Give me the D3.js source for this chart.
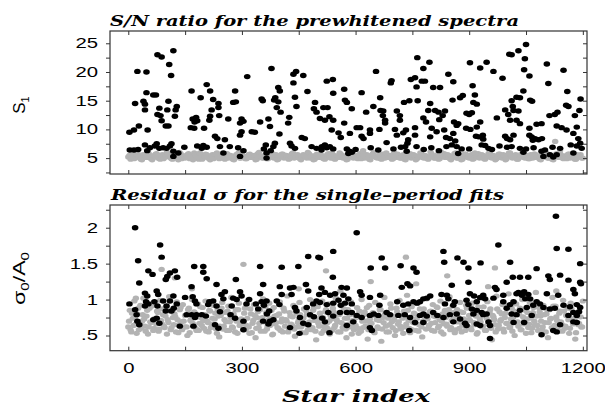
<!DOCTYPE html>
<html>
<head>
<meta charset="utf-8">
<script src="https://d3js.org/d3.v7.min.js"></script>
<style>
body { margin: 0; background: #fff; }
</style>
</head>
<body>
<script>
// top panel: S/N of the prewhitened spectra, black = significant, gray = the rest
var blackTop = [[3,9.5],[15,9.9],[28,10.6],[24,20.1],[48,20.0],[18,14.5],[40,14.9],[44,14.4],[44,13.4],[48,16.4],[66,16.0],[73,16.0],[51,9.9],[4,6.4],[15,6.4],[26,6.5],[44,7.3],[57,6.8],[50,6.3],[77,23.0],[88,22.6],[119,23.7],[108,21.3],[113,19.4],[82,13.7],[77,12.6],[85,12.4],[88,11.5],[99,10.6],[106,10.6],[106,14.9],[103,13.4],[128,14.0],[125,13.4],[123,12.3],[75,7.5],[82,6.7],[92,6.8],[110,7.1],[114,7.5],[119,6.2],[119,5.3],[132,5.9],[101,6.7],[70,7.1],[148,6.9],[167,16.7],[165,10.3],[174,10.2],[170,11.8],[179,12.1],[182,11.5],[175,11.3],[191,15.5],[207,17.8],[216,16.7],[200,10.2],[198,7.2],[207,6.9],[194,6.7],[182,7.1],[220,13.4],[216,12.3],[214,11.6],[224,15.2],[238,14.5],[229,8.8],[235,8.4],[255,8.2],[242,7.0],[251,5.9],[238,13.8],[240,12.4],[264,11.8],[277,14.7],[284,14.8],[282,16.7],[268,7.0],[290,6.8],[299,11.8],[304,11.4],[295,11.1],[299,9.6],[295,9.0],[295,5.3],[304,6.3],[314,19.2],[326,9.6],[334,9.5],[348,11.3],[352,15.3],[355,15.0],[363,7.3],[358,6.6],[365,5.9],[365,5.0],[378,20.6],[370,11.8],[374,10.5],[383,7.0],[387,7.6],[376,6.3],[385,15.1],[388,15.5],[400,16.7],[396,17.3],[396,14.8],[392,13.8],[402,13.0],[399,9.2],[422,11.1],[425,12.1],[436,19.6],[436,18.1],[443,20.1],[440,15.6],[444,14.0],[431,7.1],[427,7.6],[440,6.7],[462,19.4],[473,16.6],[466,8.4],[458,8.6],[490,13.6],[497,13.0],[493,14.7],[515,13.8],[506,11.9],[519,11.6],[484,7.0],[497,6.7],[519,7.3],[510,6.4],[524,18.4],[540,18.7],[541,16.3],[570,17.0],[526,13.8],[531,12.2],[541,11.6],[572,15.1],[577,14.7],[590,13.6],[570,11.1],[537,9.9],[555,9.4],[561,8.6],[585,9.3],[511,7.0],[524,6.8],[532,7.0],[541,6.6],[577,6.6],[584,6.2],[590,6.0],[581,5.8],[603,10.3],[612,10.3],[616,16.4],[628,13.0],[616,8.8],[621,8.4],[638,9.3],[638,9.9],[647,14.0],[654,20.1],[665,15.5],[663,10.0],[666,13.3],[673,13.2],[672,12.4],[678,11.6],[678,11.1],[682,7.7],[693,18.1],[695,18.5],[709,13.2],[717,12.4],[717,11.6],[704,10.0],[709,9.0],[726,9.4],[733,9.9],[737,7.6],[739,8.2],[731,7.0],[735,6.2],[728,14.7],[742,15.0],[746,18.7],[757,19.0],[761,17.4],[763,22.5],[779,20.6],[795,21.7],[775,18.4],[783,18.4],[764,15.0],[797,14.5],[792,13.3],[757,10.3],[757,9.0],[761,7.0],[779,12.0],[786,11.3],[801,10.2],[797,8.7],[810,13.3],[819,13.0],[805,17.3],[823,17.3],[814,9.6],[821,11.7],[830,12.4],[836,13.2],[834,9.9],[839,8.6],[845,19.6],[858,18.3],[856,15.1],[849,8.4],[854,7.3],[863,8.0],[867,10.7],[860,11.3],[871,11.0],[876,15.5],[883,15.9],[858,9.3],[867,7.0],[880,6.6],[871,5.8],[902,21.6],[909,17.6],[915,16.0],[911,14.7],[920,14.4],[893,12.8],[900,12.6],[907,12.9],[892,10.2],[903,10.0],[920,10.4],[918,8.8],[925,8.7],[936,9.0],[937,8.3],[929,20.7],[946,21.7],[964,20.1],[988,18.9],[929,11.3],[933,7.3],[942,7.2],[951,6.7],[973,12.0],[995,13.4],[1003,12.6],[1012,15.0],[1008,11.6],[1015,14.0],[1006,23.1],[1012,23.0],[1030,23.7],[1050,24.8],[1047,22.3],[1045,20.4],[1059,19.3],[1025,15.6],[1034,15.5],[1043,16.7],[1061,15.1],[1066,14.9],[1017,13.3],[1030,13.2],[1025,11.6],[1034,11.0],[995,8.8],[1000,8.4],[1008,8.2],[1017,9.0],[1012,7.0],[1034,6.7],[1043,6.0],[1059,10.2],[1059,9.0],[1065,8.7],[1074,8.4],[1083,8.2],[1092,8.4],[1068,8.1],[1105,21.4],[1109,18.0],[1078,10.9],[1091,11.0],[1112,12.4],[1133,13.0],[1126,12.6],[1091,6.2],[1096,5.3],[1113,5.6],[1122,5.2],[1131,5.6],[1149,20.3],[1159,16.6],[1156,14.2],[1162,14.0],[1131,10.6],[1144,10.3],[1157,9.9],[1175,9.3],[1140,6.7],[1179,12.4],[1194,15.3],[1191,13.3],[1184,10.4],[1188,8.4],[1193,7.6],[1184,7.1],[1197,6.7],[1175,5.9],[1168,7.3],
[600,6.5],[640,6.8],[660,6.4],[700,6.6],[720,6.9],[780,6.5],[800,6.8],[820,6.3],[840,7.0],[900,6.6],[960,6.5],[980,7.1],[1000,6.9],[1050,6.6],[1070,6.8],[1100,6.4],[1120,6.9]];

var grayTop = [[0,5.2],[6,4.8],[12,5.6],[18,5.0],[24,5.9],[30,5.3],[36,4.7],[42,5.5],[48,5.1],[54,5.8],
[60,4.9],[66,5.4],[72,5.7],[78,5.0],[84,4.8],[90,5.6],[96,5.2],[102,6.0],[108,5.3],[114,4.9],
[120,5.5],[126,5.1],[132,4.7],[138,5.8],[144,5.3],[150,5.0],[156,5.6],[162,4.9],[168,5.4],[174,5.9],
[180,5.1],[186,4.8],[192,5.5],[198,5.2],[204,5.7],[210,5.0],[216,4.7],[222,5.6],[228,5.3],[234,5.9],
[240,4.9],[246,5.4],[252,5.1],[258,5.8],[264,5.0],[270,5.5],[276,4.8],[282,5.2],[288,5.7],[294,5.0],
[300,6.1],[306,5.3],[312,4.9],[318,5.6],[324,5.1],[330,5.4],[336,4.7],[342,5.8],[348,5.2],[354,5.0],
[360,5.5],[366,4.9],[372,5.9],[378,5.3],[384,5.0],[390,5.6],[396,4.8],[402,5.2],[408,5.7],[414,5.1],
[420,5.4],[426,4.9],[432,5.8],[438,5.0],[444,5.5],[450,5.2],[456,4.7],[462,5.6],[468,5.3],[474,6.0],
[480,5.0],[486,5.4],[492,4.8],[498,5.7],[504,5.1],[510,5.5],[516,4.9],[522,5.3],[528,5.8],[534,5.0],
[540,5.6],[546,4.8],[552,5.2],[558,5.9],[564,5.1],[570,5.4],[576,4.7],[582,5.7],[588,5.3],[594,5.0],
[600,5.5],[606,4.9],[612,5.8],[618,5.2],[624,5.0],[630,5.6],[636,4.8],[642,5.4],[648,6.0],[654,5.1],
[660,5.3],[666,4.9],[672,5.7],[678,5.0],[684,5.5],[690,5.2],[696,4.8],[702,5.9],[708,5.1],[714,5.4],
[720,5.0],[726,5.6],[732,4.7],[738,5.3],[744,5.8],[750,5.1],[756,5.5],[762,4.9],[768,5.2],[774,5.7],
[780,5.0],[786,5.4],[792,4.8],[798,6.1],[804,5.3],[810,5.0],[816,5.6],[822,4.9],[828,5.2],[834,5.8],
[840,5.1],[846,5.5],[852,4.7],[858,5.3],[864,5.9],[870,5.0],[876,5.4],[882,4.8],[888,5.7],[894,5.2],
[900,5.0],[906,5.6],[912,4.9],[918,5.3],[924,5.8],[930,5.1],[936,5.5],[942,4.8],[948,5.2],[954,6.0],
[960,5.0],[966,5.4],[972,4.9],[978,5.7],[984,5.1],[990,5.6],[996,4.7],[1002,5.3],[1008,5.9],[1014,5.0],
[1020,5.5],[1026,4.8],[1032,5.2],[1038,5.8],[1044,5.1],[1050,5.4],[1056,4.9],[1062,5.6],[1068,5.0],[1074,5.7],
[1080,5.3],[1086,4.8],[1092,5.5],[1098,5.1],[1104,5.9],[1110,5.0],[1116,5.4],[1122,4.7],[1128,5.6],[1134,5.2],
[1140,5.8],[1146,5.0],[1152,5.4],[1158,4.9],[1164,5.7],[1170,5.1],[1176,5.5],[1182,4.8],[1188,5.3],[1194,5.6],
[1200,5.0],[1127,7.9],[1140,6.4],[620,6.3],
[3,5.5],[9,5.0],[15,4.9],[21,5.7],[27,5.2],[33,4.8],[39,5.6],[45,5.3],[51,5.9],[57,5.1],
[63,4.7],[69,5.4],[75,5.8],[81,5.0],[87,5.5],[93,4.9],[99,5.2],[105,5.7],[111,5.1],[117,4.8],
[123,5.6],[129,5.3],[135,6.0],[141,4.9],[147,5.4],[153,5.1],[159,5.8],[165,5.0],[171,4.7],[177,5.5],
[183,5.2],[189,5.9],[195,4.8],[201,5.3],[207,5.6],[213,5.0],[219,5.4],[225,4.9],[231,5.7],[237,5.2],
[243,5.0],[249,5.5],[255,4.8],[261,5.8],[267,5.1],[273,5.3],[279,4.7],[285,5.6],[291,5.9],[297,5.0],
[303,5.4],[309,4.9],[315,5.2],[321,5.7],[327,5.1],[333,5.5],[339,4.8],[345,6.0],[351,5.3],[357,5.0],
[363,5.6],[369,4.9],[375,5.2],[381,5.8],[387,5.1],[393,4.7],[399,5.4],[405,5.7],[411,5.0],[417,5.5],
[423,4.8],[429,5.3],[435,5.9],[441,5.1],[447,5.6],[453,4.9],[459,5.2],[465,5.4],[471,5.0],[477,5.8],
[483,5.3],[489,4.7],[495,5.5],[501,5.1],[507,5.7],[513,5.0],[519,4.8],[525,5.6],[531,5.2],[537,5.9],
[543,4.9],[549,5.4],[555,5.1],[561,5.7],[567,5.0],[573,5.3],[579,4.8],[585,5.6],[591,6.0],[597,5.2],
[603,5.0],[609,5.5],[615,4.9],[621,5.8],[627,5.1],[633,5.4],[639,4.7],[645,5.7],[651,5.3],[657,5.0],
[663,5.6],[669,4.8],[675,5.2],[681,5.9],[687,5.1],[693,5.5],[699,4.9],[705,5.3],[711,5.7],[717,5.0],
[723,5.4],[729,4.8],[735,5.8],[741,5.2],[747,5.0],[753,5.6],[759,4.7],[765,5.3],[771,5.9],[777,5.1],
[783,5.5],[789,4.9],[795,5.2],[801,5.7],[807,5.0],[813,5.4],[819,4.8],[825,6.1],[831,5.3],[837,5.1],
[843,5.6],[849,4.9],[855,5.2],[861,5.8],[867,5.0],[873,5.5],[879,4.7],[885,5.3],[891,5.7],[897,5.1],
[903,5.4],[909,4.8],[915,5.9],[921,5.2],[927,5.0],[933,5.6],[939,4.9],[945,5.3],[951,5.8],[957,5.1],
[963,5.5],[969,4.7],[975,5.2],[981,5.7],[987,5.0],[993,5.4],[999,4.9],[1005,5.9],[1011,5.3],[1017,5.1],
[1023,5.6],[1029,4.8],[1035,5.2],[1041,5.8],[1047,5.0],[1053,5.5],[1059,4.9],[1065,5.3],[1071,5.7],[1077,5.1],
[1083,5.4],[1089,4.7],[1095,5.9],[1101,5.2],[1107,5.0],[1113,5.6],[1119,4.8],[1125,5.3],[1131,5.8],[1137,5.1],
[1143,5.5],[1149,4.9],[1155,5.2],[1161,5.7],[1167,5.0],[1173,5.4],[1179,4.8],[1185,5.6],[1191,5.3],[1197,5.0]];

// bottom panel: residual sigma / A0 of the single-period fits
var blackBot = [[18,2.0],[26,1.54],[29,1.23],[3,0.94],[18,0.86],[22,0.79],[24,0.70],[29,0.65],[44,1.09],[50,1.05],[47,0.97],[53,0.94],[44,0.91],[53,1.40],[64,1.35],[84,1.76],[88,1.59],[75,1.12],[79,1.07],[69,0.97],[77,0.91],[75,0.74],[82,0.67],[66,0.72],[99,1.28],[103,1.32],[110,1.37],[123,1.40],[129,1.31],[92,0.98],[101,0.91],[110,0.98],[119,1.05],[114,0.84],[120,0.88],[128,0.94],[99,0.84],[136,0.63],[150,1.03],[167,1.18],[170,1.04],[176,0.98],[180,0.94],[154,0.79],[167,0.79],[176,0.75],[180,0.79],[174,1.46],[198,1.46],[198,1.38],[207,1.29],[172,0.63],[194,0.79],[205,0.77],[211,0.93],[214,0.97],[224,0.98],[233,0.91],[233,1.21],[246,1.07],[255,1.11],[251,1.01],[242,0.83],[229,0.65],[238,0.60],[284,1.28],[277,1.02],[286,1.00],[295,1.11],[299,1.05],[273,0.91],[270,0.79],[282,0.74],[304,0.58],[304,0.70],[312,0.94],[319,1.00],[348,1.46],[356,1.21],[348,1.08],[337,0.94],[343,0.87],[352,0.97],[358,0.92],[365,0.98],[372,0.84],[366,0.80],[356,0.70],[374,0.70],[383,0.72],[370,0.66],[405,1.45],[400,1.18],[405,1.07],[392,0.98],[399,0.93],[427,0.61],[431,1.07],[427,1.16],[436,1.17],[444,0.84],[440,0.89],[449,1.46],[452,0.53],[453,0.75],[462,0.67],[469,1.21],[475,1.60],[502,1.59],[475,1.12],[488,0.94],[497,0.98],[504,1.07],[471,0.89],[480,0.79],[490,0.76],[475,0.65],
[506,1.58],[541,1.67],[603,1.93],[540,1.31],[510,1.16],[519,1.10],[533,1.06],[546,1.08],[563,1.17],[577,1.16],[568,1.06],[506,0.96],[524,0.93],[541,0.95],[555,0.99],[561,0.92],[572,0.95],[581,1.01],[590,0.94],[612,1.11],[616,1.06],[528,0.82],[541,0.77],[559,0.82],[577,0.82],[590,0.82],[603,0.78],[616,0.75],[519,0.69],[512,0.74],[531,0.54],[577,0.64],[594,0.69],[640,1.44],[669,1.58],[678,1.44],[638,1.03],[665,1.06],[663,0.92],[682,0.82],[691,0.79],[660,0.78],[638,0.78],[648,0.80],[643,0.57],[638,0.61],[710,0.97],[722,1.17],[737,1.22],[744,1.19],[719,1.47],[753,1.44],[761,1.38],[726,0.92],[739,0.94],[753,0.97],[762,0.95],[770,0.97],[779,1.01],[788,1.02],[797,1.05],[713,0.78],[730,0.79],[744,0.75],[770,0.78],[779,0.80],[788,0.77],[757,0.68],[779,0.68],[742,0.57],[805,0.82],[832,1.67],[834,1.52],[869,1.58],[885,1.52],[898,1.44],[930,1.51],[977,1.76],[1008,1.52],[827,1.07],[841,1.06],[845,1.01],[854,1.20],[836,0.94],[858,0.92],[862,0.97],[816,0.78],[832,0.75],[849,0.79],[867,0.80],[876,0.73],[858,0.69],[898,1.24],[902,1.08],[913,1.05],[929,1.03],[937,1.06],[942,1.01],[920,0.97],[893,0.99],[898,0.93],[907,0.87],[920,0.85],[933,0.82],[937,0.79],[911,0.80],[946,0.80],[889,0.67],[893,0.64],[920,0.66],[929,0.64],[955,0.64],[951,0.69],[955,0.46],[968,1.17],[972,1.14],[964,1.02],[990,1.06],[999,1.24],[1015,1.31],[1034,1.31],[1056,1.31],[990,0.97],[999,0.88],[1008,0.93],[1017,0.97],[1025,1.08],[1030,1.10],[1039,1.06],[1045,1.11],[1056,1.07],[1061,1.01],[1048,1.01],[1012,0.80],[1025,0.79],[1034,0.85],[1052,0.89],[1069,0.92],[1078,0.97],[1087,0.94],[1065,0.78],[1045,0.68],[1017,0.68],[1078,1.43],[1109,1.33],[1113,1.28],[1131,1.71],[1162,1.70],[1140,1.34],[1129,2.16],[1193,1.50],[1105,1.08],[1135,1.06],[1162,1.27],[1175,1.14],[1179,1.08],[1193,1.24],[1195,1.22],[1096,0.89],[1113,0.87],[1126,0.88],[1149,0.92],[1166,0.90],[1184,0.93],[1193,0.89],[1175,0.82],[1162,0.78],[1184,0.78],[1190,0.83],[1140,0.65],[1175,0.69],[1184,0.68],[1091,0.51],[1122,0.57],[1131,0.55]];

var grayBot = [[0,0.62],[4,0.85],[8,0.55],[12,0.74],[16,0.98],[20,0.66],[24,0.80],[28,0.58],[32,0.92],[36,0.70],
[40,1.02],[44,0.63],[48,0.77],[52,0.52],[56,0.88],[60,0.68],[64,0.95],[68,0.60],[72,0.73],[76,0.84],
[80,0.56],[84,0.99],[88,0.67],[92,0.79],[96,0.61],[100,0.90],[104,0.72],[108,1.04],[112,0.58],[116,0.83],
[120,0.65],[124,0.76],[128,0.97],[132,0.54],[136,0.86],[140,0.69],[144,0.93],[148,0.62],[152,0.78],[156,0.50],
[160,0.88],[164,0.71],[168,1.00],[172,0.64],[176,0.81],[180,0.57],[184,0.94],[188,0.67],[192,0.75],[196,0.89],
[200,0.60],[204,0.98],[208,0.70],[212,0.55],[216,0.84],[220,0.66],[224,0.92],[228,0.73],[232,0.59],[236,0.87],
[240,0.48],[244,0.78],[248,0.96],[252,0.63],[256,0.82],[260,0.57],[264,0.91],[268,0.69],[272,1.03],[276,0.61],
[280,0.76],[284,0.86],[288,0.53],[292,0.95],[296,0.68],
[300,0.72],[304,0.58],[308,0.88],[312,0.64],[316,0.99],[320,0.53],[324,0.80],[328,0.67],[332,0.93],[336,0.47],
[340,0.75],[344,0.61],[348,0.86],[352,0.70],[356,1.01],[360,0.56],[364,0.82],[368,0.63],[372,0.95],[376,0.74],
[380,0.51],[384,0.89],[388,0.66],[392,0.78],[396,0.60],[400,0.97],[404,0.69],[408,0.55],[412,0.84],[416,0.72],
[420,1.05],[424,0.59],[428,0.77],[432,0.64],[436,0.92],[440,0.49],[444,0.81],[448,0.68],[452,0.96],[456,0.62],
[460,0.74],[464,0.87],[468,0.54],[472,0.79],[476,0.65],[480,1.00],[484,0.58],[488,0.85],[492,0.71],[496,0.44],
[500,0.90],[504,0.63],[508,0.76],[512,0.98],[516,0.57],[520,0.83],[524,0.67],[528,0.94],[532,0.52],[536,0.73],
[540,0.88],[544,0.61],[548,1.02],[552,0.69],[556,0.79],[560,0.55],[564,0.91],[568,0.66],[572,0.74],[576,0.47],
[580,0.86],[584,0.62],[588,0.97],[592,0.70],[596,0.58],
[600,0.64],[604,0.89],[608,0.53],[612,0.77],[616,1.00],[620,0.61],[624,0.83],[628,0.70],[632,0.45],[636,0.92],
[640,0.67],[644,0.79],[648,0.57],[652,0.96],[656,0.72],[660,0.60],[664,0.86],[668,0.42],[672,0.75],[676,1.03],
[680,0.63],[684,0.81],[688,0.55],[692,0.94],[696,0.69],[700,0.77],[704,0.50],[708,0.88],[712,0.66],[716,0.99],
[720,0.59],[724,0.74],[728,0.84],[732,0.62],[736,1.06],[740,0.71],[744,0.54],[748,0.90],[752,0.68],[756,0.80],
[760,0.57],[764,0.95],[768,0.65],[772,0.78],[776,0.48],[780,0.87],[784,0.73],[788,1.01],[792,0.60],[796,0.83],
[800,0.67],[804,0.93],[808,0.56],[812,0.76],[816,0.89],[820,0.63],[824,0.98],[828,0.70],[832,0.52],[836,0.85],
[840,0.66],[844,0.79],[848,1.04],[852,0.61],[856,0.91],[860,0.74],[864,0.58],[868,0.86],[872,0.69],[876,0.96],
[880,0.55],[884,0.82],[888,0.64],[892,0.92],[896,0.71],
[900,0.78],[904,0.60],[908,0.95],[912,0.68],[916,0.84],[920,0.52],[924,0.90],[928,0.73],[932,1.02],[936,0.63],
[940,0.80],[944,0.57],[948,0.97],[952,0.70],[956,0.87],[960,0.44],[964,0.76],[968,0.65],[972,1.05],[976,0.59],
[980,0.83],[984,0.72],[988,0.93],[992,0.55],[996,0.81],[1000,0.67],[1004,1.08],[1008,0.62],[1012,0.88],[1016,0.75],
[1020,0.50],[1024,0.94],[1028,0.69],[1032,0.79],[1036,0.58],[1040,1.00],[1044,0.66],[1048,0.85],[1052,0.73],[1056,0.61],
[1060,0.96],[1064,0.54],[1068,0.82],[1072,0.70],[1076,1.10],[1080,0.64],[1084,0.89],[1088,0.77],[1092,0.57],[1096,0.92],
[1100,0.68],[1104,0.80],[1108,0.47],[1112,0.86],[1116,0.74],[1120,1.03],[1124,0.63],[1128,0.91],[1132,0.71],[1136,0.56],
[1140,0.84],[1144,0.66],[1148,0.99],[1152,0.60],[1156,0.78],[1160,0.88],[1164,0.53],[1168,0.95],[1172,0.72],[1176,0.82],
[1180,0.45],[1184,0.76],[1188,0.65],[1192,0.90],[1196,0.62],
[304,1.49],[733,1.59],[968,1.44],[522,1.40],[88,1.42],[123,1.30],[640,1.25],[760,1.22],[842,1.33],[1130,1.12],[1200,0.98],[20,1.02],[168,1.15],[450,1.15],[560,1.12],[950,1.18],
[2,0.70],[6,0.58],[10,0.81],[14,0.64],[18,0.76],[22,0.53],[26,0.88],[30,0.67],[34,0.60],[38,0.79],
[42,0.73],[46,0.56],[50,0.85],[54,0.62],[58,0.69],[62,0.91],[66,0.57],[70,0.74],[74,0.66],[78,0.82],
[82,0.59],[86,0.71],[90,0.87],[94,0.63],[98,0.77],[102,0.52],[106,0.68],[110,0.84],[114,0.61],[118,0.75],
[122,0.80],[126,0.55],[130,0.72],[134,0.65],[138,0.89],[142,0.58],[146,0.70],[150,0.78],[154,0.62],[158,0.86],
[162,0.54],[166,0.73],[170,0.67],[174,0.83],[178,0.60],[182,0.76],[186,0.57],[190,0.90],[194,0.64],[198,0.71],
[202,0.79],[206,0.56],[210,0.68],[214,0.85],[218,0.61],[222,0.74],[226,0.66],[230,0.81],[234,0.53],[238,0.77],
[242,0.63],[246,0.88],[250,0.59],[254,0.72],[258,0.69],[262,0.84],[266,0.57],[270,0.75],[274,0.62],[278,0.80],
[282,0.55],[286,0.70],[290,0.86],[294,0.64],[298,0.73],
[302,0.66],[306,0.81],[310,0.58],[314,0.74],[318,0.62],[322,0.87],[326,0.54],[330,0.71],[334,0.78],[338,0.60],
[342,0.83],[346,0.67],[350,0.56],[354,0.75],[358,0.69],[362,0.90],[366,0.59],[370,0.72],[374,0.64],[378,0.85],
[382,0.52],[386,0.77],[390,0.68],[394,0.61],[398,0.80],[402,0.57],[406,0.73],[410,0.88],[414,0.63],[418,0.70],
[422,0.55],[426,0.82],[430,0.66],[434,0.76],[438,0.59],[442,0.86],[446,0.62],[450,0.71],[454,0.79],[458,0.54],
[462,0.74],[466,0.65],[470,0.84],[474,0.58],[478,0.69],[482,0.77],[486,0.61],[490,0.89],[494,0.56],[498,0.72],
[502,0.67],[506,0.81],[510,0.53],[514,0.75],[518,0.63],[522,0.86],[526,0.60],[530,0.70],[534,0.78],[538,0.57],
[542,0.83],[546,0.64],[550,0.72],[554,0.55],[558,0.80],[562,0.68],[566,0.61],[570,0.87],[574,0.59],[578,0.74],
[582,0.66],[586,0.79],[590,0.52],[594,0.71],[598,0.63],
[602,0.75],[606,0.60],[610,0.84],[614,0.56],[618,0.70],[622,0.79],[626,0.63],[630,0.89],[634,0.58],[638,0.73],
[642,0.67],[646,0.82],[650,0.54],[654,0.77],[658,0.62],[662,0.71],[666,0.86],[670,0.59],[674,0.68],[678,0.80],
[682,0.55],[686,0.74],[690,0.65],[694,0.88],[698,0.61],[702,0.72],[706,0.57],[710,0.83],[714,0.69],[718,0.63],
[722,0.78],[726,0.53],[730,0.76],[734,0.66],[738,0.85],[742,0.60],[746,0.71],[750,0.58],[754,0.81],[758,0.67],
[762,0.74],[766,0.56],[770,0.87],[774,0.62],[778,0.70],[782,0.79],[786,0.59],[790,0.73],[794,0.64],[798,0.84],
[802,0.57],[806,0.77],[810,0.68],[814,0.90],[818,0.61],[822,0.72],[826,0.55],[830,0.80],[834,0.66],[838,0.75],
[842,0.63],[846,0.86],[850,0.58],[854,0.71],[858,0.82],[862,0.54],[866,0.69],[870,0.76],[874,0.60],[878,0.83],
[882,0.65],[886,0.73],[890,0.57],[894,0.88],[898,0.62],
[902,0.71],[906,0.58],[910,0.86],[914,0.65],[918,0.77],[922,0.54],[926,0.81],[930,0.69],[934,0.62],[938,0.90],
[942,0.57],[946,0.74],[950,0.66],[954,0.83],[958,0.60],[962,0.78],[966,0.72],[970,0.55],[974,0.87],[978,0.64],
[982,0.70],[986,0.80],[990,0.59],[994,0.75],[998,0.67],[1002,0.92],[1006,0.61],[1010,0.73],[1014,0.56],[1018,0.84],
[1022,0.68],[1026,0.79],[1030,0.63],[1034,0.88],[1038,0.58],[1042,0.76],[1046,0.71],[1050,0.53],[1054,0.82],[1058,0.66],
[1062,0.74],[1066,0.60],[1070,0.89],[1074,0.65],[1078,0.77],[1082,0.57],[1086,0.83],[1090,0.70],[1094,0.62],[1098,0.79],
[1102,0.55],[1106,0.86],[1110,0.68],[1114,0.73],[1118,0.61],[1122,0.91],[1126,0.64],[1130,0.76],[1134,0.58],[1138,0.81],
[1142,0.69],[1146,0.56],[1150,0.84],[1154,0.63],[1158,0.78],[1162,0.72],[1166,0.60],[1170,0.87],[1174,0.66],[1178,0.74],
[1182,0.54],[1186,0.80],[1190,0.67],[1194,0.76],[1198,0.62]];

var xTicks = [0,150,300,450,600,750,900,1050,1200];
var xLabels = [0,300,600,900,1200];
var yTopTicks = [2.5,5,7.5,10,12.5,15,17.5,20,22.5,25];
var yTopLabels = [5,10,15,20,25];
var yBotTicks = [0.5,0.75,1,1.25,1.5,1.75,2,2.25];
var yBotLabels = [0.5,1,1.5,2];

var W = 605, H = 406;
var L = 110, R = 587;
var svg = d3.select("body").append("svg").attr("width", W).attr("height", H)
  .style("font-family", "'Liberation Sans', Arial, sans-serif");

var x = d3.scaleLinear().domain([-48.3, 1211]).range([L, R]);
var yTop = d3.scaleLinear().domain([2.23, 27.14]).range([174, 31]);
var yBot = d3.scaleLinear().domain([0.2885, 2.316]).range([350.7, 205]);

var gray = "#b3b3b3";
var sx = "scale(1.45,1)";

function panel(y, blacks, grays, ticks, labels, fmt) {
  var top = y.range()[1], bot = y.range()[0];
  var g = svg.append("g");

  g.append("g").selectAll("ellipse").data(grays).join("ellipse")
    .attr("cx", d => x(d[0])).attr("cy", d => y(d[1]))
    .attr("rx", 3.2).attr("ry", 2.6).attr("fill", gray);
  g.append("g").selectAll("ellipse").data(blacks).join("ellipse")
    .attr("cx", d => x(d[0])).attr("cy", d => y(d[1]))
    .attr("rx", 3.3).attr("ry", 2.7).attr("fill", "#000");

  // left axis, ticks outward, only some labelled
  var ax = g.append("g").attr("transform", "translate(" + L + ",0)")
    .call(d3.axisLeft(y).tickValues(ticks).tickSize(4)
      .tickFormat(d => labels.indexOf(d) >= 0 ? fmt(d) : ""));
  ax.selectAll("text").attr("x", null).attr("transform", "translate(-12,0) " + sx)
    .style("font-size", "14px").attr("fill", "#000");

  g.append("g").attr("transform", "translate(" + R + ",0)")
    .call(d3.axisRight(y).tickValues(ticks).tickSize(-4).tickFormat(""));
  g.append("g").attr("transform", "translate(0," + top + ")")
    .call(d3.axisTop(x).tickValues(xTicks).tickSize(-4).tickFormat(""));
  var bx = g.append("g").attr("transform", "translate(0," + bot + ")");
  g.selectAll(".domain").remove();

  g.append("rect").attr("x", L).attr("y", top).attr("width", R - L).attr("height", bot - top)
    .attr("fill", "none").attr("stroke", "#333").attr("stroke-width", 1.2);
  g.selectAll(".tick line").attr("stroke", "#333");
  return bx;
}

var bx1 = panel(yTop, blackTop, grayTop, yTopTicks, yTopLabels, d => d);
bx1.call(d3.axisBottom(x).tickValues(xTicks).tickSize(-4).tickFormat(""));
bx1.select(".domain").remove();
bx1.selectAll(".tick line").attr("stroke", "#333");

var bx2 = panel(yBot, blackBot, grayBot, yBotTicks, yBotLabels, d => d === 0.5 ? ".5" : d);
bx2.call(d3.axisBottom(x).tickValues(xTicks).tickSize(-4)
  .tickFormat(d => xLabels.indexOf(d) >= 0 ? d : ""));
bx2.select(".domain").remove();
bx2.selectAll(".tick line").attr("stroke", "#333");
bx2.selectAll("text").attr("y", null).attr("dy", null)
  .attr("transform", "translate(0,22) " + sx)
  .style("font-size", "14px").attr("fill", "#000");

// titles
var serif = "'DejaVu Serif', 'Liberation Serif', serif";
function title(txt, x0, y0, len, size) {
  svg.append("text").attr("x", x0).attr("y", y0).text(txt)
    .attr("textLength", len).attr("lengthAdjust", "spacingAndGlyphs")
    .style("font-family", serif).style("font-style", "italic").style("font-weight", "bold")
    .style("font-size", size + "px");
}
title("S/N ratio for the prewhitened spectra", 110, 26, 409, 14);
title("Residual \u03c3 for the single\u2013period fits", 111, 200, 393, 14);
title("Star index", 282, 402, 148, 17);

// y axis labels
var yl1 = svg.append("text").attr("transform", "translate(25,105) rotate(-90)")
  .attr("text-anchor", "middle").style("font-size", "17px");
yl1.append("tspan").text("S");
yl1.append("tspan").text("1").attr("dy", 4).style("font-size", "11px");

var yl2 = svg.append("text").attr("transform", "translate(25,305) rotate(-90)")
  .attr("textLength", 53).attr("lengthAdjust", "spacingAndGlyphs")
  .style("font-size", "17px");
yl2.append("tspan").text("\u03c3");
yl2.append("tspan").text("0").attr("dy", 4).style("font-size", "11px");
yl2.append("tspan").text("/A").attr("dy", -4);
yl2.append("tspan").text("0").attr("dy", 4).style("font-size", "11px");
</script>
</body>
</html>
